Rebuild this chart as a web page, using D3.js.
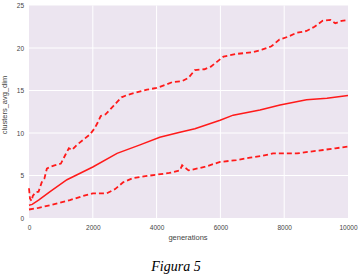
<!DOCTYPE html>
<html>
<head>
<meta charset="utf-8">
<script src="https://cdn.jsdelivr.net/npm/d3@7"></script>
<style>
  body { margin: 0; background: #fff; }
  svg { display: block; }
</style>
</head>
<body>
<svg id="chart" width="360" height="278"></svg>
<script>
// Data
const generations = [0, 30, 80, 120, 200, 300, 400, 480, 560, 650, 800, 1000, 1150, 1250, 1350, 1500, 1700, 1900, 2050, 2150, 2250, 2400, 2550, 2650, 2750, 2900, 3100, 3400, 3700, 4000, 4300, 4500, 4800, 5000, 5200, 5500, 5700, 5900, 6100, 6500, 7000, 7300, 7600, 7850, 8100, 8400, 8700, 8950, 9200, 9450, 9600, 9800, 10000];
const upperValues = [3.5, 2.3, 2.0, 2.6, 3.0, 3.1, 4.2, 4.6, 5.8, 6.0, 6.2, 6.4, 7.5, 8.2, 8.0, 8.6, 9.2, 9.8, 10.5, 11.2, 12.0, 12.2, 12.8, 13.2, 13.6, 14.2, 14.5, 14.8, 15.1, 15.3, 15.7, 16.0, 16.1, 16.5, 17.4, 17.5, 17.8, 18.4, 19.0, 19.3, 19.5, 19.8, 20.2, 21.0, 21.3, 21.8, 22.0, 22.5, 23.2, 23.3, 22.9, 23.2, 23.3];

const meanGens = [0, 100, 300, 660, 1190, 2000, 2760, 3480, 4100, 4730, 5200, 5990, 6400, 7240, 7870, 8700, 9340, 10000];
const meanValues = [1.5, 1.6, 2.1, 3.1, 4.5, 6.0, 7.6, 8.6, 9.5, 10.1, 10.5, 11.5, 12.1, 12.7, 13.3, 13.9, 14.1, 14.4];

const lowerGens = [0, 300, 660, 1280, 1700, 2000, 2440, 2700, 2950, 3260, 3600, 4000, 4400, 4730, 4800, 5000, 5500, 5990, 6500, 6930, 7300, 7650, 8000, 8400, 8800, 9220, 9600, 10000];
const lowerValues = [1.0, 1.2, 1.5, 2.1, 2.6, 2.9, 2.9, 3.4, 4.2, 4.7, 4.9, 5.1, 5.3, 5.6, 6.2, 5.6, 6.0, 6.6, 6.8, 7.1, 7.3, 7.6, 7.6, 7.6, 7.8, 8.0, 8.2, 8.4];

const xTicks = [0, 2000, 4000, 6000, 8000, 10000];
const yTicks = [0, 5, 10, 15, 20, 25];

const margin = { top: 5.5, left: 29, right: 12, bottom: 60 };
const width = 348 - margin.left;
const height = 218 - margin.top;

const svg = d3.select("#chart");
const g = svg.append("g").attr("transform", `translate(${margin.left}, ${margin.top})`);

const x = d3.scaleLinear().domain([0, 10000]).range([0, width]);
const y = d3.scaleLinear().domain([0, 25]).range([height, 0]);

// Plot background
g.append("rect")
  .attr("width", width)
  .attr("height", height)
  .attr("fill", "#ece5f0");

// Grid lines
g.selectAll(".vgrid")
  .data(xTicks.slice(1, -1))
  .enter().append("line")
  .attr("x1", d => x(d)).attr("x2", d => x(d))
  .attr("y1", 0).attr("y2", height)
  .attr("stroke", "#fff").attr("stroke-width", 1);

g.selectAll(".hgrid")
  .data(yTicks.slice(1, -1))
  .enter().append("line")
  .attr("x1", 0).attr("x2", width)
  .attr("y1", d => y(d)).attr("y2", d => y(d))
  .attr("stroke", "#fff").attr("stroke-width", 1);

// Axes (labels only)
const xAxis = g.append("g")
  .attr("transform", `translate(0, ${height})`)
  .call(d3.axisBottom(x).tickValues(xTicks).tickSize(0).tickPadding(7).tickFormat(d3.format("d")));
const yAxis = g.append("g")
  .call(d3.axisLeft(y).tickValues(yTicks).tickSize(0).tickPadding(5));
[xAxis, yAxis].forEach(a => {
  a.select(".domain").remove();
  a.selectAll("text")
    .attr("fill", "#444")
    .style("font-family", "Liberation Sans, Arial, sans-serif")
    .style("font-size", "6.5px");
});

// Lines
const line = d3.line().x(d => x(d[0])).y(d => y(d[1]));

g.append("path")
  .datum(d3.zip(generations, upperValues))
  .attr("d", line)
  .attr("fill", "none")
  .attr("stroke", "#ff1a1a")
  .attr("stroke-width", 1.8)
  .attr("stroke-dasharray", "5,3");

g.append("path")
  .datum(d3.zip(meanGens, meanValues))
  .attr("d", line)
  .attr("fill", "none")
  .attr("stroke", "#ff1a1a")
  .attr("stroke-width", 1.5);

g.append("path")
  .datum(d3.zip(lowerGens, lowerValues))
  .attr("d", line)
  .attr("fill", "none")
  .attr("stroke", "#ff1a1a")
  .attr("stroke-width", 1.8)
  .attr("stroke-dasharray", "5,3");

// Axis titles
svg.append("text")
  .attr("x", 188)
  .attr("y", 240)
  .attr("text-anchor", "middle")
  .attr("fill", "#444")
  .style("font-family", "Liberation Sans, Arial, sans-serif")
  .style("font-size", "7.5px")
  .text("generations");

svg.append("text")
  .attr("transform", "translate(7, 105) rotate(-90)")
  .attr("text-anchor", "middle")
  .attr("fill", "#444")
  .style("font-family", "Liberation Sans, Arial, sans-serif")
  .style("font-size", "7.5px")
  .text("clusters_avg_dim");

// Caption
svg.append("text")
  .attr("x", 176)
  .attr("y", 271)
  .attr("text-anchor", "middle")
  .attr("fill", "#000")
  .style("font-family", "Liberation Serif, Times New Roman, serif")
  .style("font-style", "italic")
  .style("font-size", "14px")
  .text("Figura 5");
</script>
</body>
</html>
